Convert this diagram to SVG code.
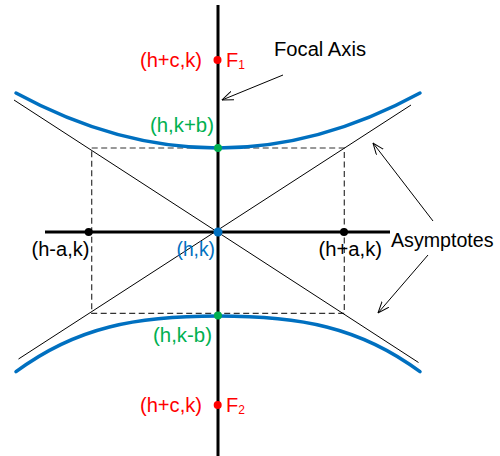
<svg xmlns="http://www.w3.org/2000/svg" width="500" height="456" viewBox="0 0 500 456">
<defs>
<marker id="open" viewBox="0 0 12 10" refX="11.5" refY="5" markerWidth="12" markerHeight="10" markerUnits="userSpaceOnUse" orient="auto">
<path d="M0,0.5 L11.5,5 L0,9.5" fill="none" stroke="#000" stroke-width="1"/>
</marker>
</defs>
<style>
text{font-family:"Liberation Sans",Arial,sans-serif;font-size:20px}
.red{fill:#FF0000}
.green{fill:#00B050}
.blue{fill:#0070C0}
.blk{fill:#000}
.axis{stroke:#000;stroke-width:3;fill:none}
.hyp{stroke:#0070C0;stroke-width:3.5;fill:none;stroke-linecap:round}
.asym{stroke:#000;stroke-width:1;fill:none}
.dash{stroke:#333;stroke-width:1.2;fill:none;stroke-dasharray:6,3.5}
.ptr{stroke:#000;stroke-width:1;fill:none;marker-end:url(#open)}
.sub{font-size:12px}
</style>
<g id="connectors">
<rect class="dash" x="91.7" y="148" width="252.6" height="165.3"/>
<line class="asym" x1="14" y1="100" x2="418.5" y2="362.5"/>
<line class="asym" x1="18.5" y1="359" x2="411" y2="105"/>
<path class="hyp" d="M16,93 Q218,203 420,93"/>
<path class="hyp" d="M16,371.7 C76.6,326.6 137.2,316 218,316 C298.8,316 359.4,326.6 420,371.7"/>
<line class="axis" x1="218" y1="5" x2="218" y2="456"/>
<line class="axis" x1="45" y1="232" x2="390" y2="232"/>
<line class="ptr" x1="283" y1="75" x2="222" y2="100"/>
<line class="ptr" x1="433" y1="221" x2="373" y2="143"/>
<line class="ptr" x1="428" y1="255" x2="378" y2="313"/>
</g>
<g id="focus1">
<circle cx="217.5" cy="60" r="4" fill="#FF0000"/>
<text class="red" x="140" y="67" textLength="62" lengthAdjust="spacingAndGlyphs">(h+c,k)</text>
<text class="red" x="226" y="67">F<tspan class="sub" dy="2">1</tspan></text>
</g>
<g id="focal-axis-label">
<text class="blk" x="274" y="56" textLength="92" lengthAdjust="spacingAndGlyphs">Focal Axis</text>
</g>
<g id="vertex-top">
<circle cx="218" cy="148" r="4" fill="#00B050"/>
<text class="green" x="150" y="132" textLength="64" lengthAdjust="spacingAndGlyphs">(h,k+b)</text>
</g>
<g id="vertex-bottom">
<circle cx="218" cy="315.5" r="4" fill="#00B050"/>
<text class="green" x="153" y="342" textLength="59" lengthAdjust="spacingAndGlyphs">(h,k-b)</text>
</g>
<g id="center">
<circle cx="218" cy="232" r="4.5" fill="#0070C0"/>
<text class="blue" x="176.5" y="255.5" textLength="38.5" lengthAdjust="spacingAndGlyphs">(h,k)</text>
</g>
<g id="left-point">
<circle cx="88.7" cy="232" r="4" fill="#000"/>
<text class="blk" x="31.5" y="255.5" textLength="58" lengthAdjust="spacingAndGlyphs">(h-a,k)</text>
</g>
<g id="right-point">
<circle cx="344" cy="232" r="4" fill="#000"/>
<text class="blk" x="318.5" y="255.5" textLength="63.5" lengthAdjust="spacingAndGlyphs">(h+a,k)</text>
</g>
<g id="asymptotes-label">
<text class="blk" x="391" y="247" textLength="102.5" lengthAdjust="spacingAndGlyphs">Asymptotes</text>
</g>
<g id="focus2">
<circle cx="217.7" cy="405" r="4" fill="#FF0000"/>
<text class="red" x="140" y="412" textLength="62" lengthAdjust="spacingAndGlyphs">(h+c,k)</text>
<text class="red" x="226" y="412">F<tspan class="sub" dy="2">2</tspan></text>
</g>
</svg>
